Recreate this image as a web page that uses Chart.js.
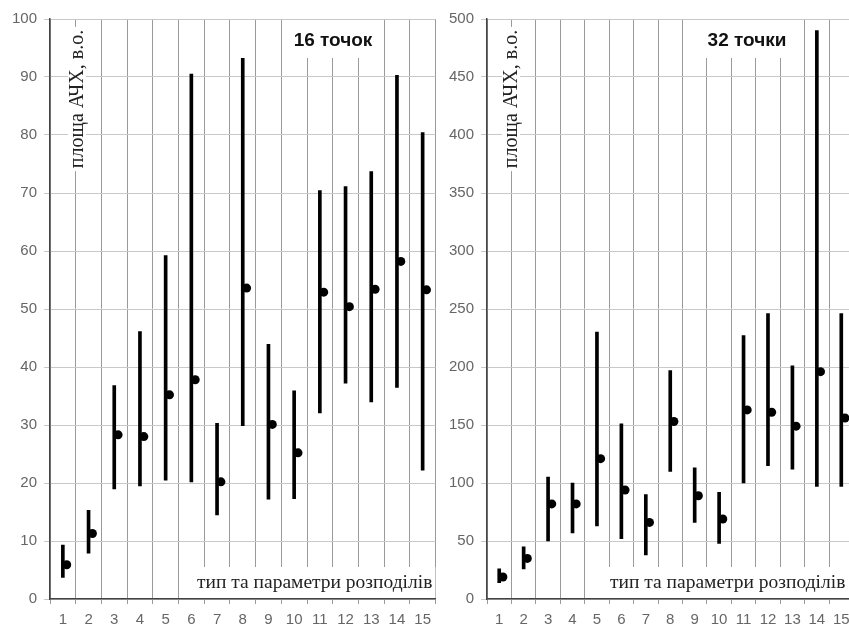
<!DOCTYPE html>
<html>
<head>
<meta charset="utf-8">
<script src="https://cdn.jsdelivr.net/npm/chart.js@4.4.0/dist/chart.umd.min.js"></script>
<style>
  body { margin: 0; background: #fff; width: 849px; height: 628px; overflow: hidden; position: relative; }
  .panel { position: absolute; top: 0; }
</style>
</head>
<body>
<div class="panel" style="left:0px"><canvas id="c16" width="440" height="628"></canvas></div>
<div class="panel" style="left:438px"><canvas id="c32" width="420" height="628"></canvas></div>
<script>
// categories: type and parameters of distributions
const cats = ['1', '2', '3', '4', '5', '6', '7', '8', '9', '10', '11', '12', '13', '14', '15'];

// 16 points
const hi16 = [9.3, 15.3, 36.8, 46.1, 59.2, 90.5, 30.3, 93.2, 43.9, 35.9, 70.4, 71.1, 73.7, 90.3, 80.4];
const lo16 = [3.7, 7.9, 19.0, 19.5, 20.5, 20.2, 14.5, 29.9, 17.2, 17.3, 32.1, 37.2, 34.0, 36.5, 22.2];
const mid16 = [5.9, 11.3, 28.3, 28.0, 35.2, 37.8, 20.2, 53.6, 30.1, 25.2, 52.9, 50.4, 53.4, 58.2, 53.3];

// 32 points
const hi32 = [26, 45, 105, 100, 230, 151, 90, 197, 113, 92, 227, 246, 201, 490, 246];
const lo32 = [14, 26, 50, 57, 63, 52, 38, 110, 66, 48, 100, 115, 112, 97, 97];
const mid32 = [19, 35, 82, 82, 121, 94, 66, 153, 89, 69, 163, 161, 149, 196, 156];

const yTitle = 'площа АЧХ, в.о.';
const xTitle = 'тип та параметри розподілів';

// texts drawn inside plot area on a white patch
const innerText = {
    id: 'innerText',
    beforeDatasetsDraw(chart, args, opts) {
        const ctx = chart.ctx;
        const a = chart.chartArea;
        ctx.save();
        // bold title
        ctx.font = 'bold 19px "Liberation Sans", Arial, sans-serif';
        ctx.textAlign = 'center';
        ctx.textBaseline = 'middle';
        let w = ctx.measureText(opts.title).width;
        ctx.fillStyle = '#fff';
        ctx.fillRect(a.left + opts.titleX - w / 2 - 4, a.top + 1, w + 8, 38);
        ctx.fillStyle = '#111';
        ctx.fillText(opts.title, a.left + opts.titleX, a.top + 22);

        // y title, rotated
        ctx.font = '20px "Liberation Serif", "Times New Roman", serif';
        w = ctx.measureText(yTitle).width;
        ctx.translate(a.left + opts.yTitleX, a.top + 80);
        ctx.rotate(-Math.PI / 2);
        ctx.fillStyle = '#fff';
        ctx.fillRect(-w / 2 - 3, -9, w + 6, 18);
        ctx.fillStyle = '#222';
        ctx.fillText(yTitle, 0, 1);
        ctx.setTransform(1, 0, 0, 1, 0, 0);

        // x title
        ctx.font = '19.5px "Liberation Serif", "Times New Roman", serif';
        ctx.textAlign = 'left';
        w = ctx.measureText(xTitle).width;
        ctx.fillStyle = '#fff';
        ctx.fillRect(a.left + opts.xTitleX - 3, a.bottom - 32, w + 6, 31);
        ctx.fillStyle = '#222';
        ctx.fillText(xTitle, a.left + opts.xTitleX, a.bottom - 16);
        ctx.restore();
    }
};

function makeChart(id, hi, lo, mid, yMax, step, yWidth, opts) {
    let ctx = document.getElementById(id).getContext('2d');
    return new Chart(ctx, {
        data: {
            labels: cats,
            datasets: [{
                type: 'bar',
                data: lo.map((l, i) => [l, hi[i]]),
                backgroundColor: '#000',
                borderWidth: 0,
                barThickness: 3,
                grouped: false,
                xAxisID: 'x'
            }, {
                type: 'scatter',
                data: mid.map((v, i) => ({ x: i + 1.15, y: v })),
                pointRadius: 4.5,
                pointBackgroundColor: '#000',
                pointBorderWidth: 0,
                showLine: false,
                xAxisID: 'x2'
            }]
        },
        options: {
            responsive: false,
            animation: false,
            layout: { padding: { top: 19, right: 2, left: 0, bottom: 0 } },
            plugins: {
                legend: { display: false },
                tooltip: { enabled: false },
                innerText: opts
            },
            scales: {
                x: {
                    type: 'category',
                    offset: true,
                    grid: { offset: true, color: '#9a9a9a', lineWidth: 1, tickLength: 5 },
                    border: { color: '#444', width: 1.5 },
                    ticks: {
                        color: '#666',
                        padding: 7,
                        maxRotation: 0,
                        autoSkip: false,
                        font: { family: '"Liberation Sans", Arial, sans-serif', size: 15 }
                    },
                    afterFit: (s) => { s.height = 29 }
                },
                x2: { type: 'linear', min: 0.5, max: 15.5, display: false },
                y: {
                    min: 0,
                    max: yMax,
                    grid: { color: '#c8c8c8', lineWidth: 1, tickLength: 6 },
                    border: { color: '#444', width: 1.5 },
                    ticks: {
                        stepSize: step,
                        color: '#666',
                        padding: 7,
                        font: { family: '"Liberation Sans", Arial, sans-serif', size: 15 }
                    },
                    afterFit: (s) => { s.width = yWidth }
                }
            }
        },
        plugins: [innerText]
    })
}

makeChart('c16', hi16, lo16, mid16, 100, 10, 50, { title: '16 точок', titleX: 283, yTitleX: 27, xTitleX: 147 });
makeChart('c32', hi32, lo32, mid32, 500, 50, 49, { title: '32 точки', titleX: 260, yTitleX: 24, xTitleX: 123 });
</script>
</body>
</html>
